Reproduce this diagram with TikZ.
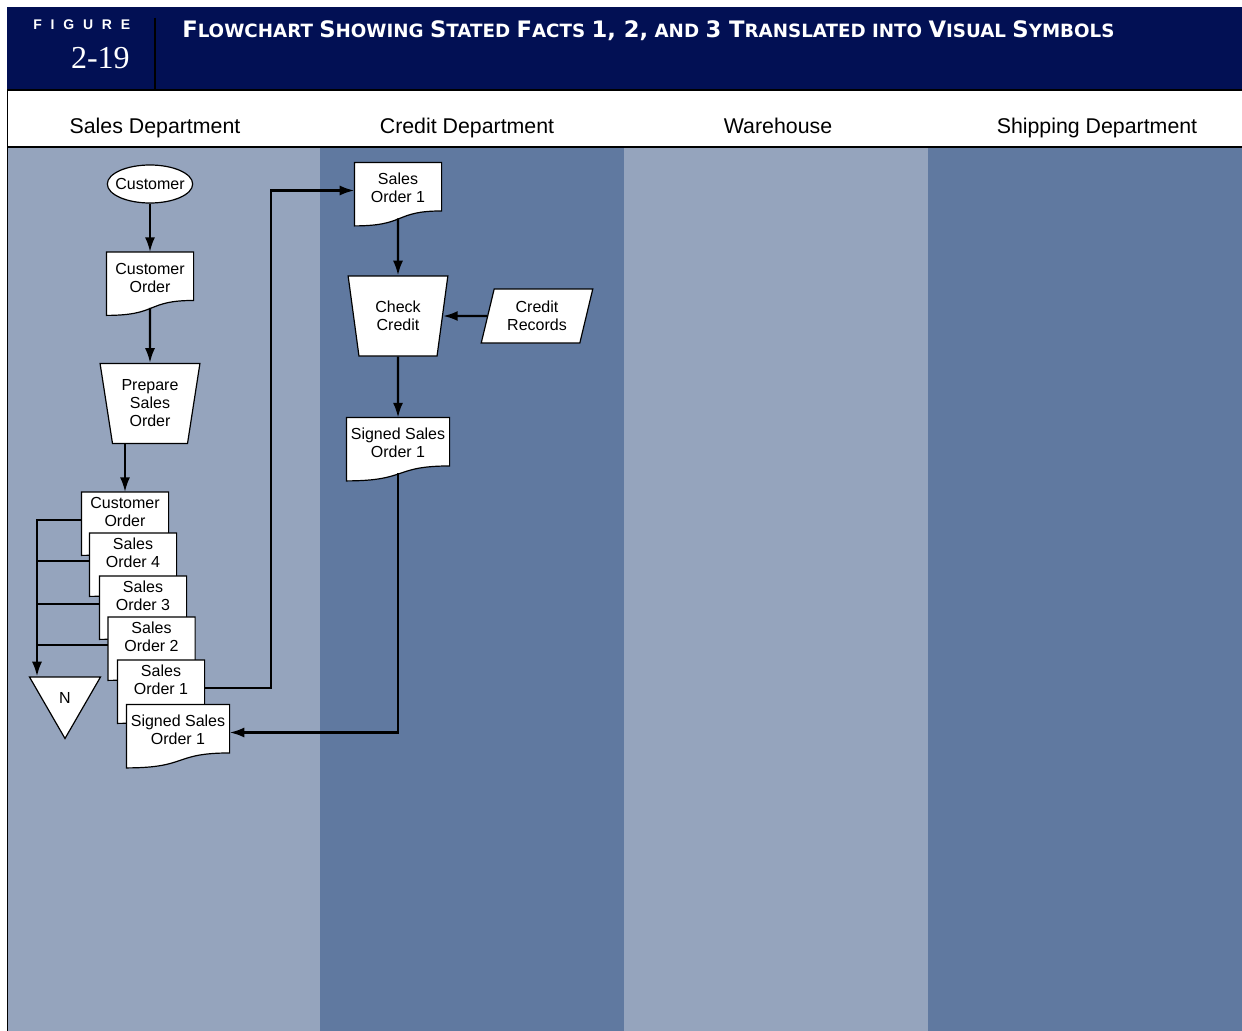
\documentclass[tikz,border=0pt]{standalone}
\usepackage{fontspec}
\setmainfont{Liberation Sans}
\newfontfamily\numfont{Liberation Serif}
\newfontfamily\headfont{DejaVu Sans}
\usetikzlibrary{shapes.geometric,arrows.meta}

\definecolor{headblue}{RGB}{2,16,84}
\definecolor{lanelight}{RGB}{149,164,189}
\definecolor{lanedark}{RGB}{96,121,160}

% document symbol: a rectangle with a wavy bottom edge
\newdimen\docl \newdimen\docr \newdimen\docb \newdimen\doct \newdimen\docw
\makeatletter
\pgfdeclareshape{document}{
  \inheritsavedanchors[from=rectangle]
  \inheritanchorborder[from=rectangle]
  \inheritanchor[from=rectangle]{center}
  \inheritanchor[from=rectangle]{north}
  \inheritanchor[from=rectangle]{south}
  \inheritanchor[from=rectangle]{east}
  \inheritanchor[from=rectangle]{west}
  \inheritanchor[from=rectangle]{north east}
  \inheritanchor[from=rectangle]{north west}
  \inheritanchor[from=rectangle]{south east}
  \inheritanchor[from=rectangle]{south west}
  \backgroundpath{
    \southwest \docl=\pgf@x \docb=\pgf@y
    \northeast \docr=\pgf@x \doct=\pgf@y
    \docw=\docr \advance\docw by -\docl
    \pgfpathmoveto{\pgfpoint{\docr}{\docb+5.6pt}}
    \pgfpathlineto{\pgfpoint{\docr}{\doct}}
    \pgfpathlineto{\pgfpoint{\docl}{\doct}}
    \pgfpathlineto{\pgfpoint{\docl}{\docb-5.6pt}}
    \pgfpathcurveto{\pgfpoint{\docl+0.6*\docw}{\docb-5.6pt}}
      {\pgfpoint{\docl+0.45*\docw}{\docb+5.6pt}}
      {\pgfpoint{\docr}{\docb+5.6pt}}
    \pgfpathclose
  }
}
\makeatother

\newcommand{\capsbig}[1]{{\fontsize{17}{16}\selectfont #1}}

\tikzset{
  lanelabel/.style={font=\fontsize{16}{19}\selectfont, anchor=base, inner sep=0},
  symbol/.style={draw, fill=white, line width=0.9pt, align=center},
  doc/.style={symbol, shape=document, minimum width=64.5pt, minimum height=41pt,
    inner sep=1pt, text depth=3.5pt},
  stacked/.style={doc, text depth=12pt},
  terminal/.style={symbol, ellipse, minimum width=64pt, minimum height=28.5pt,
    inner xsep=-3.6pt, inner ysep=0pt},
  manual/.style={symbol, trapezium, trapezium stretches=true, shape border rotate=180,
    trapezium left angle=79, trapezium right angle=79, minimum width=75pt, minimum height=60pt},
  record/.style={symbol, trapezium, trapezium stretches=true,
    trapezium left angle=75, trapezium right angle=105, minimum width=84pt, minimum height=40.5pt},
  offpage/.style={symbol, regular polygon, regular polygon sides=3, shape border rotate=180,
    minimum size=61.5pt, inner sep=0},
  line/.style={line width=1.7pt},
  flow/.style={line, -{Latex[length=11pt,width=7.5pt]}}
}

\begin{document}
\begin{tikzpicture}[x=0.75pt, y=-0.75pt, font=\fontsize{12}{13.5}\selectfont]
  \useasboundingbox (0,0) rectangle (1242,1031);

  % swim lanes
  \fill[lanelight] (7,148) rectangle (320,1031);
  \fill[lanedark] (320,148) rectangle (624,1031);
  \fill[lanelight] (624,148) rectangle (928,1031);
  \fill[lanedark] (928,148) rectangle (1242,1031);

  % heading band
  \fill[headblue] (7,7) rectangle (1242,90);
  \draw[line width=1.5pt] (7,90) -- (1242,90);
  \draw[line width=1.5pt] (7,147) -- (1242,147);
  \draw[line width=0.6pt] (7,90) -- (7,1031);
  \draw[line width=2pt] (155,18) -- (155,90);
  \node[white, anchor=west, inner sep=0, font=\bfseries\fontsize{10.5}{12}\selectfont] (figword) at (33,25)
    {\makebox[72.75pt][s]{F\hfil I\hfil G\hfil U\hfil R\hfil E}};
  \node[white, anchor=base east, inner sep=0, font=\numfont\fontsize{24}{28}\selectfont] (fignum) at (130,69) {2-19};
  \node[white, anchor=base west, inner sep=0, font=\headfont\bfseries\fontsize{13.7}{15}\selectfont] (title) at (182,38)
    {\capsbig{F}LOWCHART \capsbig{S}HOWING \capsbig{S}TATED \capsbig{F}ACTS \capsbig{1, 2,} AND \capsbig{3 T}RANSLATED INTO \capsbig{V}ISUAL \capsbig{S}YMBOLS};

  \node[lanelabel] (salesdept) at (155,133) {Sales Department};
  \node[lanelabel] (creditdept) at (467,133) {Credit Department};
  \node[lanelabel] (warehouse) at (778,133) {Warehouse};
  \node[lanelabel] (shipdept) at (1097,133) {Shipping Department};

  % sales department
  \node[terminal] (cust) at (150,184) {Customer};
  \node[doc] (co1) at (150,280) {Customer\\Order};
  \node[manual] (prep) at (150,403.5) {Prepare\\Sales\\Order};
  \node[stacked] (co2) at (125,520) {Customer\\Order};
  \node[stacked] (so4) at (133,561) {Sales\\Order 4};
  \node[stacked] (so3) at (143,604) {Sales\\Order 3};
  \node[stacked] (so2) at (151.5,645) {Sales\\Order 2};
  \node[stacked] (so1) at (161,688) {Sales\\Order 1};
  \node[doc, minimum width=76.5pt] (sso1) at (178,732.5) {Signed Sales\\Order 1};
  \node[offpage] (file) at (65,697.5) {N};

  % credit department
  \node[doc] (cso1) at (398,190.5) {Sales\\Order 1};
  \node[manual] (check) at (398,316) {Check\\Credit};
  \node[record] (recs) at (537,316) {Credit\\Records};
  \node[doc, minimum width=76.5pt] (csso1) at (398,445.5) {Signed Sales\\Order 1};

  \coordinate (bus) at (37,0);
  \coordinate (riser) at (271,0);

  \draw[flow] (cust) -- (co1);
  \draw[flow] (co1) -- (prep);
  \draw[flow] (co2.north |- prep.south) -- (co2.north);
  \draw[flow] (co2.west) -- (co2.west -| bus) -- (bus |- file.90);
  \foreach \d in {so4,so3,so2}
    \draw[line] (\d.west) -- (\d.west -| bus);
  \draw[flow] (so1.east) -- (so1.east -| riser) |- (cso1.west);
  \draw[flow] (cso1) -- (check);
  \draw[flow] (recs) -- (check);
  \draw[flow] (check) -- (csso1);
  \draw[flow] (csso1.south) |- (sso1.east);
\end{tikzpicture}
\end{document}
